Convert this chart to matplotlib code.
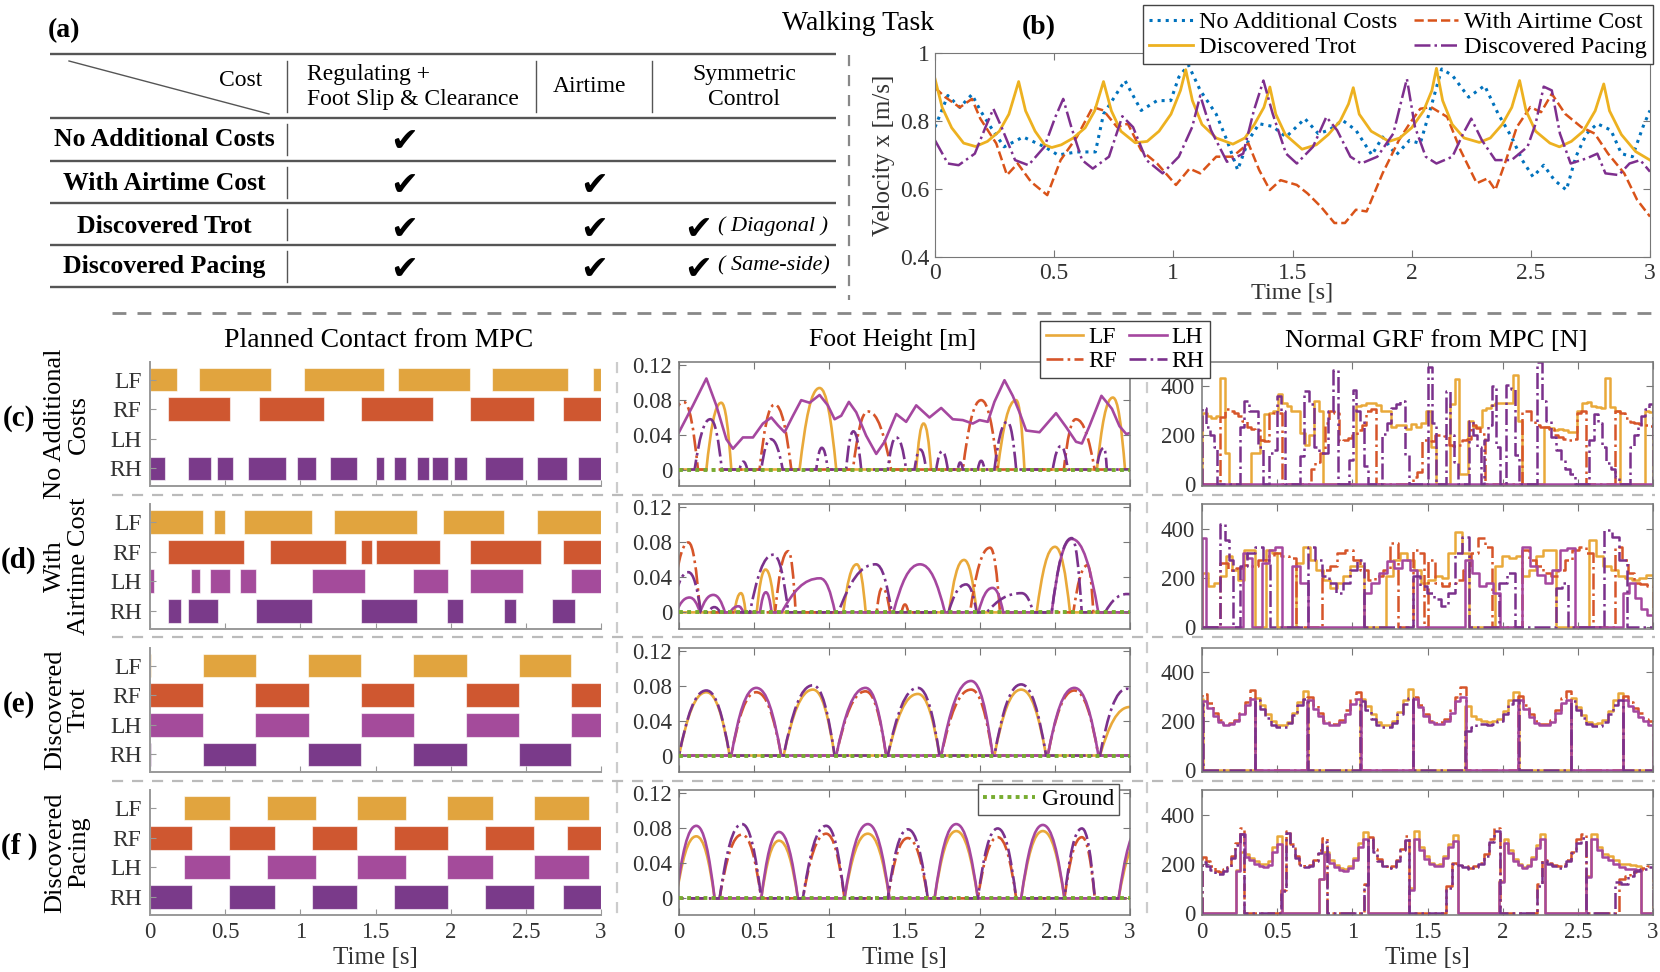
import matplotlib
matplotlib.use('Agg')
import matplotlib.pyplot as plt
from matplotlib.path import Path
from matplotlib.patches import PathPatch
from matplotlib.lines import Line2D

plt.rcParams['font.family'] = 'serif'
plt.rcParams['font.serif'] = ['Liberation Serif', 'Nimbus Roman', 'Times New Roman', 'DejaVu Serif']

# ---------------------------------------------------------------- data
time_ticks = [0, 0.5, 1, 1.5, 2, 2.5, 3]
time_tick_labels = ['0', '0.5', '1', '1.5', '2', '2.5', '3']
legs = ['LF', 'RF', 'LH', 'RH']
vel_ticks = [0.4, 0.6, 0.8, 1.0]
vel_tick_labels = ['0.4', '0.6', '0.8', '1']
foot_ticks = [0, 0.04, 0.08, 0.12]
foot_tick_labels = ['0', '0.04', '0.08', '0.12']
grf_ticks = [0, 200, 400]
grf_tick_labels = ['0', '200', '400']

series_names = ['No Additional Costs', 'With Airtime Cost', 'Discovered Trot', 'Discovered Pacing']

# table (a)
table_cols = ['Regulating +\nFoot Slip & Clearance', 'Airtime', 'Symmetric\nControl']
table_rows = ['No Additional Costs', 'With Airtime Cost', 'Discovered Trot', 'Discovered Pacing']
table_checks = [[1, 0, 0], [1, 1, 0], [1, 1, 1], [1, 1, 1]]
table_notes = ['', '', '( Diagonal )', '( Same-side)']

# velocity (b)
vel_none = [(0.0, 0.782), (0.054, 0.875), (0.104, 0.84), (0.155, 0.878), (0.19, 0.831), (0.234, 0.782),
            (0.29, 0.724), (0.37, 0.753), (0.46, 0.724), (0.516, 0.70), (0.595, 0.709), (0.673, 0.709),
            (0.707, 0.82), (0.797, 0.919), (0.865, 0.831), (0.932, 0.86), (0.989, 0.86), (1.023, 0.929),
            (1.063, 0.965), (1.113, 0.89), (1.18, 0.82), (1.225, 0.743), (1.27, 0.656), (1.315, 0.743),
            (1.36, 0.792), (1.417, 0.784), (1.473, 0.753), (1.552, 0.807), (1.608, 0.763), (1.653, 0.773),
            (1.71, 0.802), (1.766, 0.773), (1.833, 0.70), (1.878, 0.753), (1.935, 0.70), (1.991, 0.743),
            (2.036, 0.734), (2.081, 0.841), (2.126, 0.953), (2.171, 0.934), (2.239, 0.87), (2.306, 0.904),
            (2.363, 0.821), (2.419, 0.753), (2.464, 0.685), (2.509, 0.636), (2.554, 0.67), (2.599, 0.626),
            (2.649, 0.597), (2.689, 0.695), (2.734, 0.763), (2.779, 0.792), (2.836, 0.773), (2.88, 0.704),
            (2.926, 0.695), (2.97, 0.782), (3.0, 0.831)]
vel_airtime = [(0.0, 0.898), (0.043, 0.87), (0.104, 0.84), (0.155, 0.865), (0.19, 0.807), (0.257, 0.734),
               (0.302, 0.641), (0.347, 0.675), (0.403, 0.621), (0.471, 0.582), (0.527, 0.685), (0.595, 0.753),
               (0.662, 0.841), (0.707, 0.831), (0.764, 0.782), (0.809, 0.792), (0.865, 0.714), (0.932, 0.675),
               (1.011, 0.612), (1.068, 0.66), (1.113, 0.646), (1.18, 0.695), (1.248, 0.695), (1.315, 0.734),
               (1.36, 0.656), (1.405, 0.597), (1.45, 0.626), (1.518, 0.612), (1.563, 0.587), (1.619, 0.548),
               (1.676, 0.50), (1.72, 0.50), (1.766, 0.539), (1.811, 0.534), (1.878, 0.646), (1.946, 0.743),
               (1.991, 0.792), (2.036, 0.836), (2.081, 0.841), (2.149, 0.812), (2.205, 0.714), (2.273, 0.617),
               (2.318, 0.631), (2.351, 0.597), (2.396, 0.685), (2.441, 0.782), (2.498, 0.841), (2.543, 0.826),
               (2.588, 0.88), (2.644, 0.821), (2.712, 0.782), (2.768, 0.763), (2.824, 0.704), (2.892, 0.646),
               (2.946, 0.568), (3.0, 0.519)]
vel_trot = [(0.0, 0.924), (0.03, 0.84), (0.07, 0.78), (0.12, 0.735), (0.17, 0.725), (0.22, 0.74), (0.27, 0.77),
            (0.31, 0.82), (0.351, 0.916), (0.38, 0.83), (0.42, 0.77), (0.46, 0.73), (0.49, 0.722), (0.53, 0.73),
            (0.58, 0.75), (0.63, 0.78), (0.67, 0.83), (0.707, 0.916), (0.74, 0.83), (0.78, 0.77), (0.84, 0.736),
            (0.89, 0.74), (0.94, 0.77), (0.99, 0.82), (1.03, 0.89), (1.052, 0.951), (1.08, 0.86), (1.12, 0.79),
            (1.18, 0.75), (1.25, 0.732), (1.30, 0.75), (1.34, 0.79), (1.38, 0.84), (1.405, 0.90), (1.43, 0.82),
            (1.47, 0.76), (1.54, 0.717), (1.60, 0.73), (1.65, 0.76), (1.70, 0.80), (1.735, 0.85), (1.755, 0.898),
            (1.78, 0.82), (1.83, 0.77), (1.905, 0.74), (1.95, 0.75), (2.00, 0.78), (2.05, 0.83), (2.085, 0.89),
            (2.104, 0.955), (2.13, 0.86), (2.17, 0.79), (2.22, 0.75), (2.284, 0.737), (2.33, 0.75), (2.38, 0.79),
            (2.42, 0.84), (2.453, 0.919), (2.48, 0.83), (2.52, 0.77), (2.58, 0.735), (2.62, 0.724), (2.67, 0.74),
            (2.72, 0.77), (2.77, 0.83), (2.806, 0.909), (2.83, 0.83), (2.88, 0.76), (2.94, 0.71), (3.0, 0.685)]
vel_pacing = [(0.0, 0.743), (0.054, 0.675), (0.099, 0.67), (0.167, 0.704), (0.212, 0.782), (0.245, 0.836),
              (0.279, 0.782), (0.336, 0.685), (0.392, 0.67), (0.459, 0.724), (0.505, 0.812), (0.538, 0.865),
              (0.572, 0.782), (0.617, 0.685), (0.662, 0.66), (0.73, 0.695), (0.786, 0.814), (0.831, 0.782),
              (0.887, 0.685), (0.955, 0.646), (1.023, 0.695), (1.079, 0.782), (1.113, 0.875), (1.158, 0.773),
              (1.225, 0.68), (1.293, 0.704), (1.338, 0.831), (1.378, 0.919), (1.417, 0.821), (1.473, 0.704),
              (1.518, 0.675), (1.586, 0.724), (1.642, 0.812), (1.687, 0.773), (1.743, 0.695), (1.788, 0.675),
              (1.856, 0.695), (1.923, 0.763), (1.957, 0.86), (1.98, 0.924), (2.014, 0.782), (2.059, 0.695),
              (2.104, 0.675), (2.171, 0.695), (2.216, 0.763), (2.25, 0.807), (2.295, 0.743), (2.351, 0.685),
              (2.419, 0.685), (2.486, 0.724), (2.52, 0.792), (2.554, 0.901), (2.588, 0.89), (2.622, 0.763),
              (2.667, 0.675), (2.734, 0.69), (2.779, 0.704), (2.813, 0.646), (2.869, 0.641), (2.914, 0.675),
              (2.959, 0.685), (3.0, 0.651)]

# planned contact (stance intervals, s)
contact_c = {
    'LF': [(0.0, 0.18), (0.325, 0.805), (1.025, 1.554), (1.65, 2.13), (2.276, 2.778), (2.947, 3.0)],
    'RF': [(0.123, 0.53), (0.724, 1.155), (1.401, 1.882), (2.126, 2.554), (2.75, 3.0)],
    'LH': [],
    'RH': [(0.0, 0.103), (0.251, 0.404), (0.448, 0.554), (0.65, 0.904), (0.975, 1.106), (1.2, 1.379),
           (1.5, 1.554), (1.626, 1.704), (1.776, 1.857), (1.877, 1.98), (2.025, 2.107), (2.228, 2.48),
           (2.576, 2.776), (2.846, 3.0)],
}
contact_d = {
    'LF': [(0.0, 0.355), (0.429, 0.502), (0.626, 1.076), (1.224, 1.778), (1.951, 2.357), (2.576, 3.0)],
    'RF': [(0.123, 0.628), (0.8, 1.303), (1.401, 1.48), (1.5, 1.931), (2.129, 2.603), (2.75, 3.0)],
    'LH': [(0.0, 0.027), (0.273, 0.33), (0.399, 0.53), (0.601, 0.702), (1.076, 1.431), (1.751, 1.98),
           (2.129, 2.48), (2.798, 3.0)],
    'RH': [(0.123, 0.204), (0.251, 0.453), (0.702, 1.076), (1.401, 1.778), (1.975, 2.083), (2.353, 2.432),
           (2.675, 2.828)],
}
contact_e = {
    'LF': [(0.0, 0.005), (0.35, 0.704), (1.052, 1.406), (1.751, 2.106), (2.452, 2.803)],
    'RF': [(0.0, 0.355), (0.7, 1.057), (1.401, 1.754), (2.103, 2.456), (2.798, 3.0)],
    'LH': [(0.0, 0.355), (0.7, 1.057), (1.401, 1.754), (2.103, 2.456), (2.798, 3.0)],
    'RH': [(0.0, 0.005), (0.35, 0.704), (1.052, 1.406), (1.751, 2.106), (2.452, 2.803)],
}
contact_f = {
    'LF': [(0.224, 0.53), (0.776, 1.106), (1.377, 1.704), (1.978, 2.282), (2.551, 2.923)],
    'RF': [(0.0, 0.278), (0.527, 0.83), (1.076, 1.379), (1.626, 1.98), (2.228, 2.555), (2.774, 3.0)],
    'LH': [(0.224, 0.53), (0.776, 1.106), (1.377, 1.704), (1.978, 2.282), (2.551, 2.923)],
    'RH': [(0.0, 0.278), (0.527, 0.83), (1.076, 1.379), (1.626, 1.98), (2.228, 2.555), (2.748, 3.0)],
}

# foot height swings: (lift-off, peak time, touch-down, peak height [m])
foot_c = {
    'LF': [(0.182, 0.281, 0.348, 0.077), (0.802, 0.935, 1.046, 0.094), (1.578, 1.627, 1.677, 0.053),
           (2.12, 2.242, 2.298, 0.080), (2.78, 2.886, 2.967, 0.083)],
    'RF': [(-0.10, 0.03, 0.126, 0.078), (0.536, 0.636, 0.747, 0.075), (1.157, 1.256, 1.411, 0.067),
           (1.888, 2.01, 2.12, 0.080), (2.56, 2.64, 2.765, 0.058)],
    'RH': [(0.104, 0.208, 0.285, 0.058), (0.403, 0.428, 0.454, 0.009), (0.547, 0.61, 0.69, 0.035),
           (0.913, 0.95, 0.99, 0.025), (1.112, 1.16, 1.212, 0.044), (1.389, 1.445, 1.511, 0.037),
           (1.567, 1.605, 1.644, 0.023), (1.711, 1.75, 1.788, 0.021), (1.855, 1.87, 1.888, 0.008),
           (1.988, 2.01, 2.032, 0.010), (2.098, 2.183, 2.243, 0.055), (2.486, 2.54, 2.586, 0.027),
           (2.776, 2.826, 2.846, 0.025)],
}
# LH never touches down in (c): its height trace
foot_c_LH = [(0.0, 0.043), (0.093, 0.074), (0.182, 0.105), (0.248, 0.074), (0.315, 0.035), (0.359, 0.024),
             (0.425, 0.037), (0.492, 0.037), (0.558, 0.053), (0.614, 0.060), (0.658, 0.051), (0.702, 0.043),
             (0.758, 0.062), (0.813, 0.080), (0.869, 0.077), (0.935, 0.086), (0.99, 0.074), (1.035, 0.058),
             (1.079, 0.062), (1.13, 0.078), (1.179, 0.066), (1.245, 0.039), (1.312, 0.018), (1.367, 0.032),
             (1.445, 0.064), (1.511, 0.055), (1.578, 0.074), (1.666, 0.060), (1.744, 0.071), (1.821, 0.058),
             (1.888, 0.057), (1.954, 0.053), (1.999, 0.057), (2.054, 0.055), (2.098, 0.078), (2.165, 0.103),
             (2.22, 0.085), (2.265, 0.066), (2.309, 0.045), (2.398, 0.043), (2.508, 0.065), (2.575, 0.049),
             (2.641, 0.032), (2.68, 0.030), (2.73, 0.050), (2.81, 0.085), (2.88, 0.070), (2.93, 0.050),
             (2.975, 0.041), (3.0, 0.042)]
foot_d = {
    'LF': [(0.368, 0.412, 0.443, 0.022), (0.517, 0.576, 0.639, 0.049), (1.093, 1.182, 1.242, 0.055),
           (1.796, 1.896, 1.98, 0.060), (2.379, 2.501, 2.601, 0.075)],
    'RF': [(-0.05, 0.062, 0.14, 0.080), (0.639, 0.727, 0.776, 0.070), (1.315, 1.352, 1.404, 0.028),
           (1.481, 1.503, 1.525, 0.009), (1.936, 2.069, 2.135, 0.074), (2.623, 2.718, 2.756, 0.054)],
    'LH': [(-0.02, 0.07, 0.14, 0.017), (0.14, 0.228, 0.306, 0.020), (0.339, 0.395, 0.428, 0.007),
           (0.539, 0.578, 0.616, 0.023), (0.683, 0.938, 1.038, 0.039), (1.426, 1.603, 1.769, 0.055),
           (1.991, 2.085, 2.157, 0.028), (2.479, 2.612, 2.789, 0.084)],
    'RH': [(-0.05, 0.062, 0.146, 0.046), (0.195, 0.235, 0.273, 0.006), (0.472, 0.627, 0.727, 0.066),
           (1.06, 1.308, 1.415, 0.055), (1.792, 1.91, 1.98, 0.032), (2.047, 2.279, 2.357, 0.022),
           (2.479, 2.612, 2.679, 0.085), (2.834, 2.98, 3.15, 0.021)],
}
foot_e = {
    'LF': [(0.0, 0.182, 0.337, 0.073), (0.696, 0.891, 1.035, 0.076), (1.389, 1.589, 1.733, 0.071),
           (2.098, 2.276, 2.442, 0.076), (2.80, 3.0, 3.15, 0.056)],
    'RF': [(0.348, 0.514, 0.68, 0.073), (1.046, 1.241, 1.378, 0.074), (1.744, 1.943, 2.087, 0.076),
           (2.453, 2.63, 2.79, 0.075)],
    'LH': [(0.348, 0.514, 0.68, 0.078), (1.046, 1.241, 1.378, 0.078), (1.744, 1.943, 2.087, 0.086),
           (2.453, 2.63, 2.79, 0.078)],
    'RH': [(0.0, 0.182, 0.337, 0.075), (0.696, 0.891, 1.035, 0.081), (1.389, 1.589, 1.733, 0.078),
           (2.098, 2.276, 2.442, 0.082), (2.80, 2.98, 3.15, 0.077)],
}
foot_f = {
    'LF': [(-0.02, 0.115, 0.237, 0.071), (0.547, 0.665, 0.791, 0.066), (1.101, 1.256, 1.40, 0.074),
           (1.70, 1.844, 1.988, 0.077), (2.276, 2.42, 2.564, 0.077), (2.924, 3.07, 3.2, 0.068)],
    'RF': [(0.27, 0.419, 0.547, 0.073), (0.824, 0.979, 1.101, 0.074), (1.389, 1.522, 1.655, 0.069),
           (1.988, 2.12, 2.243, 0.070), (2.564, 2.68, 2.766, 0.070)],
    'LH': [(-0.02, 0.115, 0.237, 0.083), (0.547, 0.665, 0.791, 0.076), (1.101, 1.256, 1.40, 0.085),
           (1.70, 1.844, 1.988, 0.085), (2.276, 2.42, 2.564, 0.084), (2.924, 3.07, 3.2, 0.082)],
    'RH': [(0.27, 0.419, 0.547, 0.085), (0.824, 0.979, 1.101, 0.083), (1.389, 1.522, 1.655, 0.079),
           (1.988, 2.12, 2.243, 0.080), (2.564, 2.68, 2.766, 0.080)],
}

# normal GRF [N]: MPC step values inside each stance interval (same order as contact lists)
grf_c = {
    'LF': [[293, 280, 270, 280, 433, 127],
           [127, 127, 180, 285, 290, 300, 367, 330, 320, 300, 300, 210, 160, 200, 340, 300],
           [320, 325, 330, 330, 325, 300, 300, 235, 240, 240, 225, 245, 235, 250, 300, 150],
           [327, 430, 40, 40, 260, 235, 235, 305, 310, 325, 330, 330, 330, 330, 445, 260],
           [233, 230, 220, 225, 220, 215, 215, 300, 330, 335, 320, 315, 310, 433, 315, 300],
           [300, 295]],
    'RF': [[273, 307, 300, 290, 280, 260, 235, 227, 220, 180, 175, 287, 293, 293],
           [60, 90, 127, 250, 300, 290, 175, 180, 190, 200, 220, 240, 300, 307],
           [27, 50, 180, 180, 175, 200, 200, 195, 160, 155, 160, 180, 185, 240, 230, 207],
           [300, 300, 260, 240, 235, 233, 225, 200, 193, 185, 180, 185, 290, 300],
           [300, 290, 270, 255, 250, 245, 240, 238]],
    'LH': [],
    'RH': [[313, 233, 200, 153], [233, 340, 300, 300, 150], [127, 140, 360, 300],
           [113, 380, 327, 153, 127, 127, 300, 467], [100, 387, 300, 260, 73],
           [207, 250, 313, 327, 340, 120], [480, 250], [380, 200, 90], [260, 200, 150],
           [180, 240, 400, 150], [407, 390, 120], [500, 340, 260, 193, 140, 100, 60, 40],
           [180, 287, 250, 153, 87, 60, 30], [153, 200, 233, 280, 307, 327]],
}
grf_d = {
    'LF': [[220, 167, 180, 207, 287, 233, 193, 313, 313], [313, 300],
           [260, 327, 273, 233, 193, 160, 180, 207, 247, 247],
           [207, 273, 300, 273, 233, 180, 193, 207, 200, 300, 387, 300],
           [247, 287, 280, 287, 207, 230, 287, 313, 313],
           [353, 287, 247, 230, 207, 200, 193, 200, 213]],
    'RF': [[260, 233, 240, 253, 250, 273, 287, 300, 290, 280],
           [233, 247, 300, 313, 273, 233, 193, 207, 230, 340], [313, 300],
           [273, 180, 167, 180, 193, 233, 300, 360, 327],
           [313, 273, 247, 220, 207, 230, 273, 313, 327, 300],
           [327, 273, 220, 180, 175, 167]],
    'LH': [[360], [300, 280], [260, 313, 327], [247, 180],
           [140, 180, 220, 267, 240, 273, 230], [273, 220, 167, 180, 140],
           [327, 250, 210, 180, 230, 313, 320], [140, 180, 120, 73, 50]],
    'RH': [[420, 353, 273], [247, 300, 327, 273], [327, 273, 207, 180, 140, 180, 233, 273],
           [207, 167, 140, 113, 87, 140, 300, 367], [180, 220], [160, 180], [393, 367, 273]],
}
grf_e = {
    'LF': [[290], [295, 265, 230, 200, 186, 184, 198, 232, 278, 325],
           [290, 262, 228, 198, 185, 186, 200, 236, 285, 330],
           [262, 222, 208, 200, 198, 202, 210, 240, 285, 320],
           [295, 260, 225, 198, 190, 192, 205, 240, 285, 315]],
    'RF': [[312, 275, 235, 205, 190, 192, 205, 235, 280, 328],
           [300, 268, 232, 200, 188, 190, 205, 245, 290, 320],
           [300, 265, 230, 200, 192, 195, 210, 250, 300, 340],
           [305, 268, 230, 200, 190, 190, 205, 245, 295, 325],
           [305, 280, 255, 232, 210, 200]],
    'LH': [[282, 255, 222, 196, 186, 188, 200, 228, 268, 292],
           [285, 252, 220, 194, 184, 186, 198, 230, 272, 290],
           [290, 258, 222, 196, 188, 190, 202, 235, 282, 300],
           [285, 252, 218, 194, 186, 186, 198, 232, 275, 288],
           [285, 262, 240, 218, 200, 185]],
    'RH': [[270], [285, 250, 212, 186, 176, 178, 192, 226, 265, 292],
           [282, 248, 210, 186, 176, 178, 194, 228, 272, 295],
           [158, 175, 188, 188, 186, 190, 200, 230, 270, 285],
           [282, 248, 212, 188, 180, 182, 196, 228, 268, 285]],
}
grf_f = {
    'LF': [[175, 250, 240, 225, 210, 200, 198, 210, 270, 312],
           [140, 250, 215, 195, 182, 178, 190, 225, 285, 330],
           [100, 335, 270, 232, 205, 195, 198, 230, 280, 318],
           [130, 300, 255, 220, 200, 188, 195, 228, 278, 322],
           [150, 320, 270, 240, 230, 215, 200, 200, 195, 190]],
    'RF': [[228, 210, 190, 172, 168, 178, 195, 230, 285, 345],
           [95, 335, 280, 230, 200, 190, 195, 215, 255, 305],
           [120, 310, 262, 218, 195, 185, 190, 215, 262, 312],
           [110, 205, 200, 190, 185, 190, 205, 240, 300, 345],
           [120, 215, 205, 195, 190, 198, 215, 250, 300, 320],
           [140, 150, 165, 175, 185, 190]],
    'LH': [[172, 320, 228, 215, 200, 190, 188, 195, 250, 280],
           [138, 240, 205, 188, 175, 172, 185, 215, 270, 300],
           [95, 300, 255, 220, 200, 190, 192, 222, 268, 292],
           [125, 285, 245, 212, 195, 185, 190, 220, 265, 300],
           [145, 300, 258, 228, 215, 200, 188, 180, 180, 175]],
    'RH': [[208, 192, 175, 160, 160, 170, 188, 222, 275, 320],
           [90, 325, 272, 222, 195, 186, 190, 210, 245, 290],
           [115, 300, 250, 210, 190, 182, 186, 210, 255, 295],
           [100, 200, 195, 186, 180, 186, 200, 232, 290, 335],
           [110, 210, 200, 190, 185, 192, 210, 242, 285, 305],
           [125, 120, 150, 170, 180, 188]],
}

row_tags = ['(c)', '(d)', '(e)', '(f )']
row_names = ['No Additional\nCosts', 'With\nAirtime Cost', 'Discovered\nTrot', 'Discovered\nPacing']

# ---------------------------------------------------------------- style
W, H = 1660, 972
bar_colors = {'LF': '#E1A43E', 'RF': '#CF5730', 'LH': '#A44B9B', 'RH': '#7A3A8A'}
line_colors = {'LF': '#E9A93A', 'RF': '#D6552A', 'LH': '#A5479F', 'RH': '#7B318C'}
line_styles = {'LF': '-', 'RF': '-.', 'LH': '-', 'RH': '-.'}
bar_y = {'LF': 4, 'RF': 3, 'LH': 2, 'RH': 1}
vel_colors = ['#0072BD', '#D95319', '#EDB120', '#7E2F8E']
vel_styles = [':', '--', '-', '-.']
ground_color = '#77AC30'
spine_col = '#777777'
tick_txt = '#333333'

fig = plt.figure(figsize=(W / 100, H / 100), dpi=100)


def add_ax(x0, y0, x1, y1):
    return fig.add_axes([x0 / W, 1 - y1 / H, (x1 - x0) / W, (y1 - y0) / H])


bg = fig.add_axes([0, 0, 1, 1])
bg.set_xlim(0, W)
bg.set_ylim(H, 0)
bg.axis('off')

# ---------------------------------------------------------------- (a) table
tcol = '#555555'
for y in [54, 118, 161, 203, 245, 287]:
    bg.plot([50, 836], [y, y], color=tcol, lw=1.7, solid_capstyle='butt')
for x in [287, 536, 652]:
    bg.plot([x, x], [61, 112], color=tcol, lw=1.0)
for y0, y1 in [(124, 155), (167, 198), (209, 240), (251, 282)]:
    bg.plot([287, 287], [y0, y1], color=tcol, lw=1.0)
bg.plot([69, 269], [61, 114], color=tcol, lw=1.0)
bg.text(64, 31, '(a)', fontsize=20, fontweight='bold', ha='center', va='center')
bg.text(241, 80, 'Cost', fontsize=17, ha='center', va='center')
bg.text(307, 87, table_cols[0], fontsize=17, ha='left', va='center', linespacing=1.25)
bg.text(590, 86, table_cols[1], fontsize=17, ha='center', va='center')
bg.text(744, 87, table_cols[2], fontsize=17, ha='center', va='center', linespacing=1.25)
row_y = [139, 183, 226, 266]
col_x = [404, 594, 698]
for i, name in enumerate(table_rows):
    bg.text(164, row_y[i], name, fontsize=18.5, fontweight='bold', ha='center', va='center')
    for j, c in enumerate(table_checks[i]):
        if c:
            bg.text(col_x[j], row_y[i] + 3, '\u2714', fontsize=24, ha='center', va='center',
                    family=['DejaVu Sans'])
    if table_notes[i]:
        bg.text(718, row_y[i], table_notes[i], fontsize=16, style='italic', ha='left', va='center')

# separators
bg.plot([849, 849], [55, 300], color='#888888', lw=1.6, dashes=(5, 4))
bg.plot([112, 1655], [313, 313], color='#888888', lw=2.0, dashes=(5, 4))
for y in [495, 637, 781]:
    bg.plot([112, 1655], [y, y], color='#BBBBBB', lw=1.6, dashes=(5, 4))
for x in [617, 1147]:
    bg.plot([x, x], [362, 915], color='#CCCCCC', lw=1.6, dashes=(5, 4))

# titles
bg.text(858, 23, 'Walking Task', fontsize=20, ha='center', va='center')
bg.text(1039, 28, '(b)', fontsize=20, fontweight='bold', ha='center', va='center')
bg.text(379, 340, 'Planned Contact from MPC', fontsize=20, ha='center', va='center')
bg.text(893, 340, 'Foot Height [m]', fontsize=18.5, ha='center', va='center')
bg.text(1436, 341, 'Normal GRF from MPC [N]', fontsize=19, ha='center', va='center')

# ---------------------------------------------------------------- (b) velocity
axv = add_ax(935, 53, 1650, 257)
vel_series = [vel_none, vel_airtime, vel_trot, vel_pacing]
vel_lw = [2.2, 1.8, 2.0, 1.8]
vel_handles = []
for k, pts in enumerate(vel_series):
    ln, = axv.plot([p[0] for p in pts], [p[1] for p in pts], color=vel_colors[k],
                   ls=vel_styles[k], lw=vel_lw[k], label=series_names[k])
    vel_handles.append(ln)
axv.set_xlim(0, 3)
axv.set_ylim(0.4, 1.0)
axv.set_xticks(time_ticks)
axv.set_xticklabels(time_tick_labels)
axv.set_yticks(vel_ticks)
axv.set_yticklabels(vel_tick_labels)
axv.tick_params(direction='in', length=5, top=True, right=True, labelsize=17,
                colors=spine_col, labelcolor=tick_txt, pad=4)
for s in axv.spines.values():
    s.set_color(spine_col)
axv.set_xlabel('Time [s]', fontsize=17.5, labelpad=-1, color=tick_txt)
axv.set_ylabel('Velocity x [m/s]', fontsize=18, labelpad=4, color=tick_txt)
order = [0, 2, 1, 3]
leg_v = fig.legend([vel_handles[i] for i in order], [series_names[i] for i in order],
                   loc='upper right', bbox_to_anchor=(1653 / W, 1 - 5 / H), ncol=2, fontsize=17.5,
                   frameon=True, fancybox=False, edgecolor='#444444', framealpha=1,
                   handlelength=1.8, handletextpad=0.25, columnspacing=0.7, labelspacing=0.12,
                   borderpad=0.25, borderaxespad=0)
leg_v.get_frame().set_linewidth(1.0)

# ---------------------------------------------------------------- rows (c)-(f)
row_box = [(362, 486), (504, 629), (648, 772), (790, 915)]
contacts = [contact_c, contact_d, contact_e, contact_f]
feet = [foot_c, foot_d, foot_e, foot_f]
grfs = [grf_c, grf_d, grf_e, grf_f]


def swing_path(swings):
    verts = [(-0.5, 0.0)]
    codes = [Path.MOVETO]
    for t0, tp, t1, h in sorted(swings):
        a = tp - t0
        b = t1 - tp
        verts.append((t0, 0.0))
        codes.append(Path.LINETO)
        verts += [(t0 + 0.3 * a, 0.62 * h), (tp - 0.42 * a, h), (tp, h)]
        codes += [Path.CURVE4] * 3
        verts += [(tp + 0.42 * b, h), (t1 - 0.3 * b, 0.62 * h), (t1, 0.0)]
        codes += [Path.CURVE4] * 3
    verts.append((3.5, 0.0))
    codes.append(Path.LINETO)
    return Path(verts, codes)


def grf_steps(segs, vals):
    xs, ys = [0.0], [0.0]
    for (s, e), v in zip(segs, vals):
        w = (e - s) / len(v)
        for k, val in enumerate(v):
            xs.append(s + k * w)
            ys.append(val)
        xs.append(e)
        ys.append(0.0)
    xs.append(3.0)
    ys.append(0.0)
    return xs, ys


def style_box_axes(ax, bottom):
    ax.set_xlim(0, 3)
    ax.set_xticks(time_ticks)
    ax.tick_params(direction='in', length=5, top=True, right=True, labelsize=16.5,
                   colors=spine_col, labelcolor=tick_txt, pad=5, labelbottom=bottom)
    for s in ax.spines.values():
        s.set_color(spine_col)
        s.set_linewidth(1.1)
    if bottom:
        ax.set_xticklabels(time_tick_labels)
        ax.set_xlabel('Time [s]', fontsize=18, labelpad=3, color=tick_txt)


for r in range(4):
    y0, y1 = row_box[r]
    bottom = (r == 3)
    yc = (y0 + y1) / 2
    bg.text(19, yc - 6, row_tags[r], fontsize=21, fontweight='bold', ha='center', va='center')
    bg.text(67, yc, row_names[r], fontsize=19, rotation=90, ha='center', va='center',
            linespacing=1.1, multialignment='center')

    # contact
    axc = add_ax(150, y0, 601, y1)
    for leg in legs:
        segs = contacts[r][leg]
        if segs:
            axc.broken_barh([(s, e - s) for s, e in segs], (bar_y[leg] - 0.4, 0.8),
                            facecolors=bar_colors[leg], edgecolors=(1, 1, 1, 0.6), linewidth=0.8)
    axc.set_xlim(0, 3)
    axc.set_ylim(0.41, 4.59)
    axc.set_yticks([bar_y[l] for l in legs])
    axc.set_yticklabels(legs)
    axc.set_xticks(time_ticks)
    axc.spines['top'].set_visible(False)
    axc.spines['right'].set_visible(False)
    for s in ['left', 'bottom']:
        axc.spines[s].set_color('#999999')
        axc.spines[s].set_linewidth(1.4)
    axc.tick_params(direction='in', length=4, labelsize=17, colors='#999999', labelcolor=tick_txt,
                    pad=6, labelbottom=bottom)
    if bottom:
        axc.set_xticklabels(time_tick_labels)
        axc.tick_params(axis='x', labelsize=16.5, pad=5)
        axc.set_xlabel('Time [s]', fontsize=18, labelpad=3, color=tick_txt)

    # foot height
    axf = add_ax(679, y0, 1130, y1)
    for leg in legs:
        if r == 0 and leg == 'LH':
            axf.plot([p[0] for p in foot_c_LH], [p[1] for p in foot_c_LH], color=line_colors['LH'],
                     lw=1.9, ls='-')
            continue
        patch = PathPatch(swing_path(feet[r][leg]), fill=False, edgecolor=line_colors[leg],
                          lw=1.9, linestyle=line_styles[leg])
        axf.add_patch(patch)
    gl, = axf.plot([0, 3], [0, 0], color=ground_color, lw=2.8, linestyle=(0, (1, 1.1)), zorder=5)
    axf.set_ylim(-0.019, 0.124)
    axf.set_yticks(foot_ticks)
    axf.set_yticklabels(foot_tick_labels)
    style_box_axes(axf, bottom)
    if bottom:
        lg = axf.legend([gl], ['Ground'], loc='upper right', bbox_to_anchor=(1119 / W, 1 - 784 / H),
                        bbox_transform=fig.transFigure, fontsize=17, frameon=True, fancybox=False,
                        edgecolor='#555555', framealpha=1, handlelength=2.2, handletextpad=0.3,
                        borderpad=0.2, borderaxespad=0)
        lg.get_frame().set_linewidth(1.0)

    # GRF
    axg = add_ax(1202, y0, 1653, y1)
    for leg in legs:
        xs, ys = grf_steps(contacts[r][leg], grfs[r][leg])
        axg.step(xs, ys, where='post', color=line_colors[leg], lw=1.8, ls=line_styles[leg])
    axg.set_ylim(-8, 500)
    axg.set_yticks(grf_ticks)
    axg.set_yticklabels(grf_tick_labels)
    style_box_axes(axg, bottom)

# legend for legs
leg_handles = [Line2D([], [], color=line_colors[l], ls=line_styles[l], lw=1.9) for l in legs]
leg_l = fig.legend(leg_handles, legs, loc='upper right', bbox_to_anchor=(1210 / W, 1 - 321 / H), ncol=2,
                   fontsize=17, frameon=True, fancybox=False, edgecolor='#444444', framealpha=1,
                   handlelength=1.6, handletextpad=0.2, columnspacing=0.5, labelspacing=0.1,
                   borderpad=0.25, borderaxespad=0)
leg_l.get_frame().set_linewidth(1.0)

fig.savefig('out.png', dpi=100)
